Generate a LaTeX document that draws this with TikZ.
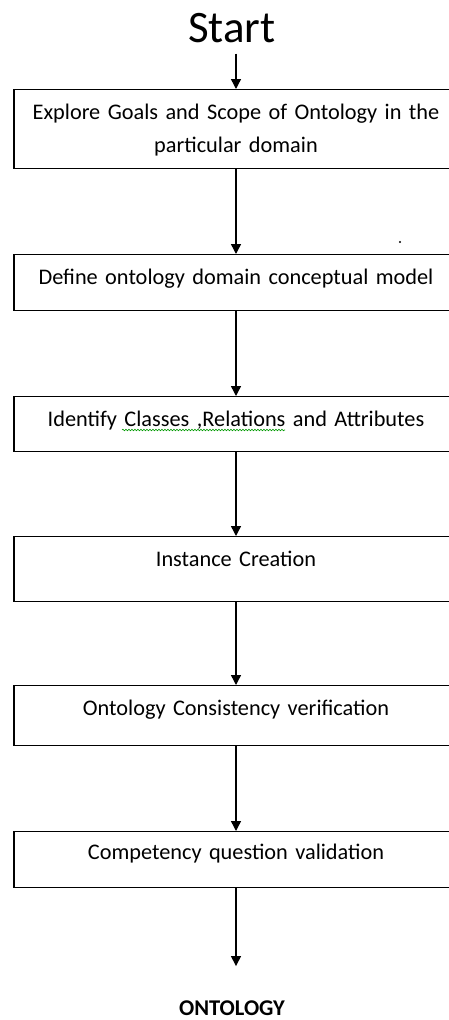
\documentclass[tikz,border=0pt]{standalone}
\usepackage{fontspec}
\setmainfont{Carlito}[WordSpace=0.55]
\usetikzlibrary{arrows.meta,decorations.pathmorphing}

\tikzset{
  stepbox/.style={draw, line width=1.4pt, anchor=north, inner sep=0pt,
    text width=444pt, align=center, text height=30pt,
    font=\fontsize{22.3}{33}\selectfont},
  flow/.style={line width=1.4pt, -{Triangle[length=10pt,width=10pt]}}
}

\begin{document}
\begin{tikzpicture}[x=1pt,y=-1pt]
  \useasboundingbox (0,0) rectangle (449,1020);
  \node[anchor=base, inner sep=11pt, font=\fontsize{45}{50}\selectfont] (start) at (232,42) {Start};
  \node[stepbox, text depth=49pt] (goals) at (236,89) {Explore Goals and Scope of Ontology in the\\ particular domain};
  \node[stepbox, text depth=26pt] (model) at (236,254) {Define ontology domain conceptual model};
  \node[stepbox, text depth=25pt] (classes) at (236,396) {Identify Classes ,Relations and Attributes};
  \node[stepbox, text depth=35pt] (instance) at (236,536) {Instance Creation};
  \node[stepbox, text depth=30pt] (verify) at (236,685) {Ontology Consistency verification};
  \node[stepbox, text height=28pt, text depth=28pt] (validate) at (236,831) {Competency question validation};
  \node[anchor=base, inner sep=0pt, font=\fontsize{22.5}{26}\selectfont\bfseries] (onto) at (232,1015) {ONTOLOGY};

  \draw[flow] (start.south -| goals.north) -- (goals.north);
  \draw[flow] (goals) -- (model);
  \draw[flow] (model) -- (classes);
  \draw[flow] (classes) -- (instance);
  \draw[flow] (instance) -- (verify);
  \draw[flow] (verify) -- (validate);
  \draw[flow, shorten >=34pt] (validate.south) -- (validate.south |- onto.north);

  % spell-check mark and stray dot
  \draw[green!60!black, line width=0.6pt, decorate, decoration={snake, amplitude=0.8pt, segment length=3pt}] (122,430) -- (285,430);
  \fill (400,242) circle (1.2);
\end{tikzpicture}
\end{document}
